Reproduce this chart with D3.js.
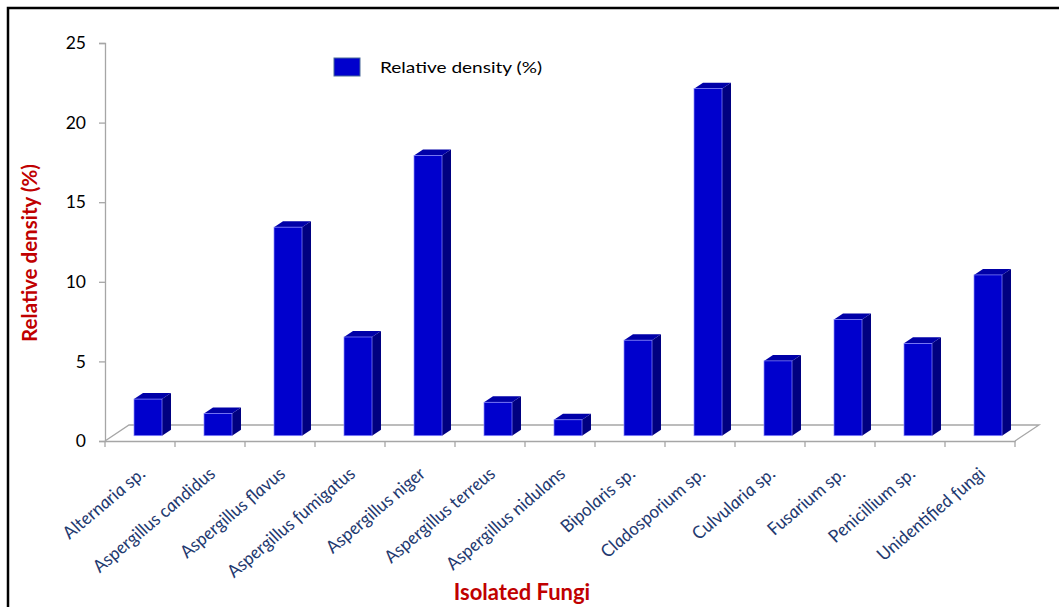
<!DOCTYPE html>
<html>
<head>
<meta charset="utf-8">
<script src="https://cdn.jsdelivr.net/npm/d3@7"></script>
<style>
  body { margin: 0; background: #fff; }
  svg { display: block; font-family: Lato, "Open Sans", sans-serif; }
</style>
</head>
<body>
<div id="chart"></div>
<script>
// Données
const categories = ["Alternaria sp.", "Aspergillus candidus", "Aspergillus flavus", "Aspergillus fumigatus",
    "Aspergillus niger", "Aspergillus terreus", "Aspergillus nidulans", "Bipolaris sp.",
    "Cladosporium sp.", "Culvularia sp.", "Fusarium sp.", "Penicillium sp.", "Unidentified fungi"];
const density = [2.3, 1.4, 13.1, 6.2, 17.6, 2.1, 1.0, 6.0, 21.8, 4.7, 7.3, 5.8, 10.1];
const yTicks = [0, 5, 10, 15, 20, 25];
const seriesName = "Relative density (%)";

const tidyData = categories.map((c, i) => ({ "cat": c, "val": density[i] }));

const width = 1059;
const height = 607;
const stretch = 1.19; // l'image d'origine est étirée en largeur

const svg = d3.select("#chart")
    .append("svg")
    .attr("width", width)
    .attr("height", height);

// Cadre
svg.append("rect")
    .attr("x", 8)
    .attr("y", 8)
    .attr("width", 1100)
    .attr("height", 700)
    .attr("fill", "none")
    .attr("stroke", "#000")
    .attr("stroke-width", 2.5);

// Echelles
const scaleX = d3.scaleBand()
    .domain(categories)
    .range([105, 1015])
    .padding(0);

const scaleY = d3.scaleLinear()
    .domain([0, 25])
    .range([441, 43]);

// profondeur 3D
const floorDx = 24, floorDy = -16;
const barShiftX = 8, barShiftY = -5.3;
const sideDx = 9, sideDy = -6;
const axisCol = "#a6a6a6";

// Sol
const x0 = scaleX.range()[0], x1 = scaleX.range()[1], yb = scaleY(0);
svg.append("path")
    .attr("d", `M${x0},${yb} L${x0 + floorDx},${yb + floorDy} L${x1 + floorDx},${yb + floorDy} L${x1},${yb}`)
    .attr("fill", "none")
    .attr("stroke", axisCol)
    .attr("stroke-width", 1.3);

// Axe Y
const yAxis = g => g
    .attr("transform", `translate(${x0}, 0)`)
    .call(d3.axisLeft(scaleY).tickValues(yTicks).tickSize(6).tickPadding(13))
    .call(g => g.select(".domain").attr("stroke", axisCol).attr("stroke-width", 1.3))
    .call(g => g.selectAll(".tick line").attr("stroke", axisCol).attr("stroke-width", 1.3))
    .call(g => g.selectAll(".tick text")
        .attr("font-size", "17.5px")
        .attr("font-family", "Lato, sans-serif")
        .attr("fill", "#000"));

svg.append("g").call(yAxis);

// Axe X
const xAxis = g => g
    .attr("transform", `translate(0, ${yb})`)
    .call(d3.axisBottom(scaleX).tickSize(0).tickFormat(""))
    .call(g => g.select(".domain").attr("stroke", axisCol).attr("stroke-width", 1.3));

svg.append("g").call(xAxis);

// graduations aux bords des catégories
svg.append("g")
    .selectAll("line")
    .data(categories.concat(["end"]))
    .join("line")
    .attr("x1", (d, i) => i < categories.length ? scaleX(d) : x1)
    .attr("x2", (d, i) => i < categories.length ? scaleX(d) : x1)
    .attr("y1", yb)
    .attr("y2", yb + 6)
    .attr("stroke", axisCol)
    .attr("stroke-width", 1.3);

// Barres 3D
const bw = scaleX.bandwidth() * 0.4;
const bars = svg.append("g")
    .selectAll("g")
    .data(tidyData)
    .join("g");

const fx = d => scaleX(d.cat) + (scaleX.bandwidth() - bw) / 2 + barShiftX;
const fTop = d => scaleY(d.val) + barShiftY;
const fBot = scaleY(0) + barShiftY;

// face latérale
bars.append("path")
    .attr("d", d => {
        const xr = fx(d) + bw;
        return `M${xr},${fTop(d)} L${xr + sideDx},${fTop(d) + sideDy} L${xr + sideDx},${fBot + sideDy} L${xr},${fBot} Z`;
    })
    .attr("fill", "#000080");

// dessus
bars.append("path")
    .attr("d", d => {
        const xl = fx(d), t = fTop(d);
        return `M${xl},${t} L${xl + sideDx},${t + sideDy} L${xl + bw + sideDx},${t + sideDy} L${xl + bw},${t} Z`;
    })
    .attr("fill", "#0000a8");

// face avant
bars.append("rect")
    .attr("x", d => fx(d))
    .attr("y", d => fTop(d))
    .attr("width", bw)
    .attr("height", d => fBot - fTop(d))
    .attr("fill", "#0000cd")
    .attr("stroke", "#8c8cff")
    .attr("stroke-width", 0.7);

// Etiquettes des catégories
svg.append("g")
    .selectAll("text")
    .data(categories)
    .join("text")
    .attr("transform", d => `translate(${scaleX(d) + scaleX.bandwidth() / 2 + 7}, ${yb + 34}) scale(${stretch}, 1) rotate(-45)`)
    .attr("text-anchor", "end")
    .attr("font-size", "16.5px")
    .attr("font-style", "italic")
    .attr("fill", "#1f3a70")
    .text(d => d);

// Titres des axes
svg.append("text")
    .attr("transform", "translate(37, 253) rotate(-90)")
    .attr("text-anchor", "middle")
    .attr("font-size", "20.5px")
    .attr("font-weight", "bold")
    .attr("fill", "#c00000")
    .text("Relative density (%)");

svg.append("text")
    .attr("x", 522)
    .attr("y", 600)
    .attr("text-anchor", "middle")
    .attr("font-size", "22px")
    .attr("font-weight", "bold")
    .attr("fill", "#c00000")
    .text("Isolated Fungi");

// Légende
const legend = svg.append("g")
    .attr("transform", "translate(334, 58)");

legend.append("rect")
    .attr("width", 26)
    .attr("height", 18)
    .attr("fill", "#0000cd")
    .attr("stroke", "#4a6a9a")
    .attr("stroke-width", 1);

legend.append("text")
    .attr("transform", `translate(46, 15) scale(${stretch}, 1)`)
    .attr("font-size", "16px")
    .attr("fill", "#000")
    .text(seriesName);
</script>
</body>
</html>
